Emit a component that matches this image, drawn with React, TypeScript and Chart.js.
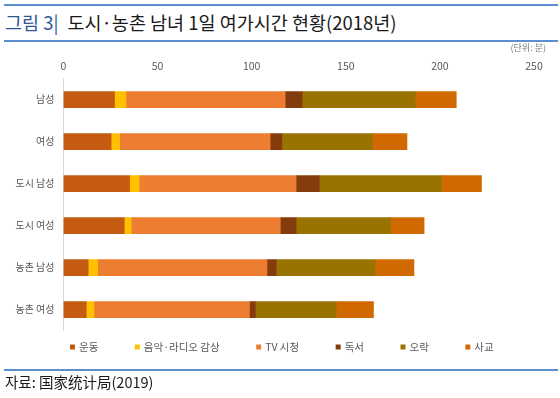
import React, { useEffect, useRef } from "react";
import { Chart, registerables } from "chart.js";

Chart.register(...registerables);

const categories = ["남성", "여성", "도시 남성", "도시 여성", "농촌 남성", "농촌 여성"];
const seriesNames = ["운동", "음악·라디오 감상", "TV 시청", "독서", "오락", "사교"];
const exercise = [27.1, 25.3, 35.1, 32.3, 13.1, 12.1];
const music = [6.1, 4.5, 5.1, 3.7, 5.0, 4.1];
const tv = [84.6, 80.0, 83.4, 79.2, 90.0, 82.6];
const reading = [9.0, 6.2, 12.3, 8.4, 4.9, 3.1];
const entertainment = [60.1, 48.2, 65.0, 50.1, 52.5, 43.0];
const social = [21.8, 18.3, 21.2, 17.9, 20.7, 19.8];
const xTicks = [0, 50, 100, 150, 200, 250];
const seriesColors = ["#C55A11", "#FFC000", "#ED7D31", "#843C0C", "#997300", "#D06A00"];

const FONT = '"Noto Sans CJK KR", "Noto Sans", sans-serif';

const legendPlugin = {
  id: "customLegend",
  afterDraw(chart: any) {
    const ctx = chart.ctx;
    ctx.save();
    ctx.font = `10.5px ${FONT}`;
    ctx.textBaseline = "middle";
    ctx.textAlign = "left";
    let x = 70;
    const y = 347;
    chart.data.datasets.forEach((ds: any) => {
      ctx.fillStyle = ds.backgroundColor;
      ctx.fillRect(x, y - 2.5, 5, 5);
      x += 9;
      ctx.fillStyle = "#595959";
      ctx.fillText(ds.label, x, y);
      x += ctx.measureText(ds.label).width + 36.5;
    });
    ctx.restore();
  },
};

export default function App() {
  const canvasRef = useRef<HTMLCanvasElement | null>(null);

  useEffect(() => {
    if (!canvasRef.current) return;
    const values = [exercise, music, tv, reading, entertainment, social];
    const chart = new Chart(canvasRef.current, {
      type: "bar",
      data: {
        labels: categories,
        datasets: seriesNames.map((name, i) => ({
          label: name,
          data: values[i],
          backgroundColor: seriesColors[i],
          borderWidth: 0,
          barThickness: 16,
        })),
      },
      options: {
        indexAxis: "y",
        responsive: false,
        animation: false,
        devicePixelRatio: 1,
        layout: { padding: { top: 58.7, left: 0, right: 26, bottom: 67.3 } },
        plugins: {
          legend: { display: false },
          tooltip: { enabled: false },
          title: { display: false },
        },
        scales: {
          x: {
            position: "top",
            stacked: true,
            min: 0,
            max: 250,
            afterBuildTicks: (s: any) => {
              s.ticks = xTicks.map((v) => ({ value: v }));
            },
            afterFit: (s: any) => {
              s.height = 20;
            },
            grid: { display: false, drawTicks: false },
            border: { display: false },
            ticks: {
              padding: 6,
              color: "#595959",
              font: { family: FONT, size: 10.5 },
              maxRotation: 0,
            },
          },
          y: {
            stacked: true,
            afterFit: (s: any) => {
              s.width = 63.5;
            },
            grid: { display: true, color: "rgba(0,0,0,0)", drawTicks: false, drawOnChartArea: false },
            border: { display: true, color: "#D9D9D9", width: 1 },
            ticks: {
              padding: 9,
              color: "#595959",
              font: { family: FONT, size: 10 },
            },
          },
        },
      },
      plugins: [legendPlugin],
    } as any);
    return () => chart.destroy();
  }, []);

  return (
    <div style={{ position: "absolute", left: 0, top: 0, width: 560, height: 398, background: "#fff", fontFamily: FONT }}>
      <div style={{ position: "absolute", left: 4, top: 4, width: 554, borderTop: "2px solid #5B8FD0" }} />
      <div style={{ position: "absolute", left: 5, top: 9, fontSize: 18.5, lineHeight: "26px", whiteSpace: "nowrap", color: "#1a1a1a" }}>
        <span style={{ color: "#2F5597" }}>그림 3|</span>
        <span style={{ marginLeft: 9 }}>도시·농촌 남녀 1일 여가시간 현황(2018년)</span>
      </div>
      <div style={{ position: "absolute", left: 4, top: 40, width: 554, borderTop: "2px solid #5B8FD0" }} />
      <canvas ref={canvasRef} width={560} height={398} style={{ position: "absolute", left: 0, top: 0, width: 560, height: 398 }} />
      <div style={{ position: "absolute", right: 14, top: 42, fontSize: 9, lineHeight: "12px", color: "#7F7F7F", whiteSpace: "nowrap" }}>
        (단위: 분)
      </div>
      <div style={{ position: "absolute", left: 4, top: 369, width: 554, borderTop: "2px solid #5B8FD0" }} />
      <div style={{ position: "absolute", left: 5, top: 372, fontSize: 14.5, lineHeight: "20px", color: "#1a1a1a", whiteSpace: "nowrap" }}>
        자료: 国家统计局(2019)
      </div>
    </div>
  );
}
